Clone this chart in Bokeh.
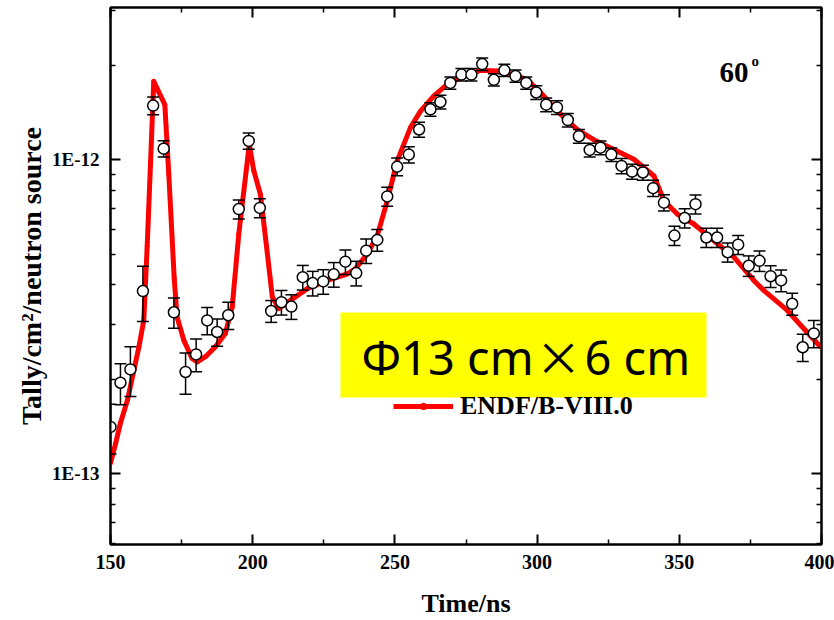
from bokeh.plotting import figure
from bokeh.models import (LogAxis, LinearAxis, Label, BoxAnnotation, Legend, LegendItem,
                          ColumnDataSource, FixedTicker)
from bokeh.embed import file_html
from bokeh.resources import INLINE

# ---------------- data ----------------
exp_time = [150.0, 153.5, 157.0, 161.4, 165.0, 168.7, 172.3, 176.4, 180.1, 184.0,
            187.5, 191.4, 195.1, 198.6, 202.5, 206.5, 210.1, 213.6, 217.6, 221.1,
            224.8, 228.5, 232.6, 236.4, 239.9, 243.8, 247.3, 250.8, 254.9, 258.5,
            262.5, 266.0, 269.5, 273.4, 276.9, 280.7, 284.8, 288.5, 292.4, 296.2,
            299.7, 303.2, 307.0, 310.8, 314.7, 318.5, 322.3, 326.1, 329.7, 333.4,
            337.2, 340.8, 344.6, 348.3, 351.9, 355.7, 359.5, 363.3, 367.0, 370.7,
            374.4, 378.2, 382.1, 385.8, 389.7, 393.4, 397.3]
exp_tally = [1.41e-13, 1.95e-13, 2.15e-13, 3.82e-13, 1.49e-12, 1.086e-12, 3.27e-13, 2.11e-13, 2.40e-13, 3.08e-13,
             2.83e-13, 3.20e-13, 6.97e-13, 1.15e-12, 7.03e-13, 3.30e-13, 3.52e-13, 3.41e-13, 4.23e-13, 4.05e-13,
             4.10e-13, 4.32e-13, 4.74e-13, 4.36e-13, 5.14e-13, 5.56e-13, 7.65e-13, 9.52e-13, 1.04e-12, 1.25e-12,
             1.45e-12, 1.53e-12, 1.76e-12, 1.87e-12, 1.87e-12, 2.02e-12, 1.80e-12, 1.93e-12, 1.85e-12, 1.76e-12,
             1.64e-12, 1.50e-12, 1.47e-12, 1.34e-12, 1.19e-12, 1.076e-12, 1.094e-12, 1.04e-12, 9.57e-13, 9.18e-13,
             9.12e-13, 8.13e-13, 7.31e-13, 5.74e-13, 6.53e-13, 7.23e-13, 5.66e-13, 5.66e-13, 5.08e-13, 5.37e-13,
             4.60e-13, 4.77e-13, 4.26e-13, 4.13e-13, 3.48e-13, 2.53e-13, 2.80e-13]
exp_err_pct = [18, 15, 18, 20, 6.5, 6, 11, 15, 12, 10,
               10, 10, 7, 6, 7, 8, 9, 9, 9, 9,
               9, 9, 9, 9, 9, 8, 7, 6.5, 6, 5.5,
               5, 5, 4.5, 4.5, 4.5, 4.5, 4.5, 4.5, 4.5, 4.5,
               5, 5, 5, 5, 5, 5, 5, 5, 5.5, 5.5,
               5.5, 6, 6, 7, 7, 7, 7, 7, 7, 7,
               7.5, 7.5, 8, 8, 8, 10, 10]

sim_time = [150.0, 151.8, 153.5, 156.0, 160.0, 161.7, 162.9, 164.1, 165.2, 169.1,
            170.5, 172.4, 173.4, 175.8, 178.7, 180.5, 183.4, 186.9, 190.4, 192.8,
            195.1, 198.8, 200.4, 202.7, 204.5, 206.9, 209.2, 219.2, 226.2,
            233.2, 236.1, 240.3, 243.8, 247.3, 250.8, 255.5, 259.0, 263.7, 268.4,
            274.2, 280.1, 286.0, 291.8, 296.5, 301.2, 307.1, 314.1, 319.9, 327.0,
            334.0, 341.1, 344.6, 349.3, 355.1, 362.1, 369.2, 376.2, 379.7, 387.9,
            399.6]
sim_tally = [1.08e-13, 1.25e-13, 1.45e-13, 1.72e-13, 2.54e-13, 3.08e-13, 5.3e-13, 9.9e-13, 1.78e-12, 1.50e-12,
             9.0e-13, 4.2e-13, 3.16e-13, 2.66e-13, 2.33e-13, 2.27e-13, 2.36e-13, 2.54e-13, 2.80e-13, 3.40e-13,
             5.8e-13, 1.12e-12, 9.23e-13, 7.78e-13, 5.66e-13, 3.66e-13, 3.36e-13, 3.89e-13, 4.13e-13,
             4.33e-13, 4.5e-13, 5.01e-13, 5.74e-13, 7.4e-13, 9.93e-13, 1.27e-12, 1.43e-12, 1.60e-12, 1.74e-12,
             1.85e-12, 1.93e-12, 1.92e-12, 1.87e-12, 1.80e-12, 1.64e-12, 1.43e-12, 1.25e-12, 1.16e-12, 1.08e-12,
             1.005e-12, 8.89e-13, 7.41e-13, 6.72e-13, 6.25e-13, 5.53e-13, 4.9e-13, 4.13e-13, 3.84e-13, 3.32e-13,
             2.54e-13]

x_ticks = [150, 200, 250, 300, 350, 400]
x_minor = [175, 225, 275, 325, 375]
y_ticks = [1e-13, 1e-12]
y_tick_labels = ["1E-13", "1E-12"]
y_minor = [6e-14, 7e-14, 8e-14, 9e-14, 2e-13, 3e-13, 4e-13, 5e-13, 6e-13, 7e-13, 8e-13, 9e-13, 2e-12, 3e-12]

series_label = "ENDF/B-VIII.0"
x_title = "Time/ns"
y_title = "Tally/cm²/neutron source"
angle_text = "60"
sample_parts = ["Φ13 cm", "×", "6 cm"]

# ---------------- figure ----------------
SERIF = "Liberation Serif"

p = figure(width=834, height=620, x_range=(150, 400), y_range=(5.95e-14, 3.06e-12),
           y_axis_type="log", output_backend="svg", toolbar_location=None,
           min_border_left=110, min_border_right=13, min_border_top=7, min_border_bottom=75)
p.grid.visible = False
p.outline_line_color = "black"
p.outline_line_width = 2
p.background_fill_color = "white"
p.border_fill_color = "white"

def style_axis(ax, labels=True):
    ax.axis_line_width = 2
    ax.axis_line_color = "black"
    ax.major_tick_in = 10
    ax.major_tick_out = 0
    ax.minor_tick_in = 5
    ax.minor_tick_out = 0
    ax.major_tick_line_width = 2
    ax.minor_tick_line_width = 1.5
    ax.major_tick_line_color = "black"
    ax.minor_tick_line_color = "black"
    ax.major_label_text_font = SERIF
    ax.major_label_text_font_style = "bold"
    ax.major_label_text_font_size = "19px"
    ax.major_label_text_color = "black"
    if not labels:
        ax.major_label_text_font_size = "0px"
        ax.major_label_text_alpha = 0
        ax.major_label_standoff = 0

xa = p.xaxis[0]
xa.ticker = FixedTicker(ticks=x_ticks, minor_ticks=x_minor)
style_axis(xa)
xa.major_label_text_font_size = "20px"
xa.major_label_standoff = 10
xa.axis_label = x_title
xa.axis_label_text_font = SERIF
xa.axis_label_text_font_style = "bold"
xa.axis_label_text_font_size = "26px"
xa.axis_label_text_color = "black"
xa.axis_label_standoff = 17

ya = p.yaxis[0]
ya.ticker = FixedTicker(ticks=y_ticks, minor_ticks=y_minor)
style_axis(ya)
ya.major_label_standoff = 11
ya.major_label_overrides = {t: s for t, s in zip(y_ticks, y_tick_labels)}
ya.axis_label = y_title
ya.axis_label_text_font = SERIF
ya.axis_label_text_font_style = "bold"
ya.axis_label_text_font_size = "28px"
ya.axis_label_text_color = "black"
ya.axis_label_standoff = 2

top = LinearAxis(ticker=FixedTicker(ticks=x_ticks, minor_ticks=x_minor))
style_axis(top, labels=False)
p.add_layout(top, "above")
right = LogAxis(ticker=FixedTicker(ticks=y_ticks, minor_ticks=y_minor))
style_axis(right, labels=False)
p.add_layout(right, "right")

# ---------------- glyphs ----------------
sim = ColumnDataSource(dict(t=sim_time, v=sim_tally))
line_r = p.line("t", "v", source=sim, line_color="#ff0000", line_width=5, line_join="round")
dot_r = p.scatter("t", "v", source=sim, marker="circle", size=4, fill_color="#ff0000", line_color="#ff0000")

lo = [v * (1 - e / 100.0) for v, e in zip(exp_tally, exp_err_pct)]
hi = [v * (1 + e / 100.0) for v, e in zip(exp_tally, exp_err_pct)]
exp = ColumnDataSource(dict(t=exp_time, v=exp_tally, lo=lo, hi=hi))
p.segment(x0="t", y0="lo", x1="t", y1="hi", source=exp, line_color="black", line_width=1.5)
p.scatter("t", "lo", source=exp, marker="dash", size=12, line_color="black", line_width=1.5)
p.scatter("t", "hi", source=exp, marker="dash", size=12, line_color="black", line_width=1.5)
p.scatter("t", "v", source=exp, marker="circle", size=11, fill_color="white",
          line_color="black", line_width=1.5)

# ---------------- legend ----------------
legend = Legend(items=[LegendItem(label=series_label, renderers=[line_r, dot_r])],
                location=(283, 123), orientation="vertical",
                glyph_width=60, glyph_height=16, label_height=28, label_standoff=7,
                padding=0, margin=0, spacing=0,
                border_line_alpha=0, background_fill_alpha=0,
                label_text_font=SERIF, label_text_font_style="bold",
                label_text_font_size="26px", label_text_color="black")
p.add_layout(legend, "center")

# ---------------- annotations ----------------
box = BoxAnnotation(left=230, right=596, top=232, bottom=147,
                    left_units="screen", right_units="screen", top_units="screen", bottom_units="screen",
                    fill_color="#ffff00", fill_alpha=1.0, line_alpha=0)
p.add_layout(box)
p.add_layout(Label(x=251, y=188, x_units="screen", y_units="screen", text=sample_parts[0],
                   text_font="Noto Sans", text_font_size="47px", text_color="black",
                   text_align="left", text_baseline="middle"))
p.add_layout(Label(x=448, y=190, x_units="screen", y_units="screen", text=sample_parts[1],
                   text_font="Noto Sans CJK SC", text_font_size="46px", text_color="black",
                   text_align="center", text_baseline="middle"))
p.add_layout(Label(x=474, y=188, x_units="screen", y_units="screen", text=sample_parts[2],
                   text_font="Noto Sans", text_font_size="47px", text_color="black",
                   text_align="left", text_baseline="middle"))
p.add_layout(Label(x=609, y=472, x_units="screen", y_units="screen", text=angle_text,
                   text_font=SERIF, text_font_style="bold", text_font_size="29px",
                   text_color="black", text_align="left", text_baseline="middle"))
p.add_layout(Label(x=641, y=484, x_units="screen", y_units="screen", text="o",
                   text_font=SERIF, text_font_style="bold", text_font_size="15px",
                   text_color="black", text_align="left", text_baseline="middle"))

open("out.html", "w").write(file_html(p, INLINE))
